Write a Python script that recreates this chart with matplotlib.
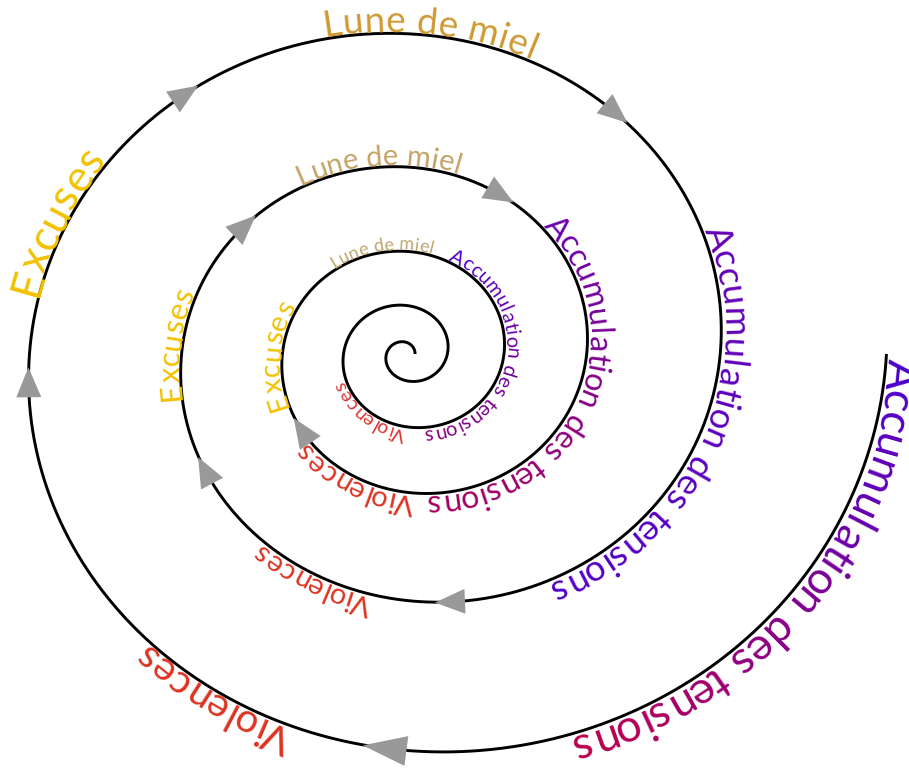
import numpy as np
import matplotlib
matplotlib.use('Agg')
import matplotlib.pyplot as plt
from matplotlib.patches import Polygon
from matplotlib.font_manager import FontProperties, findfont, get_font
from matplotlib.colors import to_rgb

plt.rcParams['text.hinting'] = 'no_hinting'
plt.rcParams['text.hinting_factor'] = 1

# spiral radius read every quarter turn, going inward (clockwise) from the outer end
ring_angles = np.arange(0, 1800, 90)
ring_radii = [432, 401, 358, 316, 287, 244, 214, 189, 158, 141,
              122, 104, 83, 73, 59, 49, 38, 28, 17, 12]

# labels along the spiral: text, start/end angle (deg), start/end colour
label_texts = ["Accumulation des tensions", "Violences", "Excuses", "Lune de miel",
               "Accumulation des tensions", "Violences", "Excuses", "Lune de miel",
               "Accumulation des tensions", "Violences", "Excuses", "Lune de miel",
               "Accumulation des tensions", "Violences"]
label_start = [0.5, 107, 189, 255, 335, 459, 528, 598, 673, 809, 875, 950, 1010, 1172]
label_end = [70, 131, 214, 290, 422, 487, 557, 643, 805, 858, 924, 1001, 1160, 1236]
color_start = ['#4c00cc', '#dd3322', '#f2c200', '#cf9a33',
               '#6400b4', '#dd3322', '#f2c200', '#c4a265',
               '#6a00aa', '#dd3322', '#f2c200', '#bfa46e',
               '#5200c8', '#dd3333']
color_end = ['#bb004c', '#dd3322', '#f2c200', '#cf9a33',
             '#5000c8', '#dd3322', '#f2c200', '#c4a265',
             '#a8005a', '#dd3322', '#f2c200', '#bfa46e',
             '#8c0078', '#dd3333']

# arrows on the path (deg)
arrow_angles = [94.4, 175.5, 230.6, 307.6, 442.5, 509, 579.4, 657, 863]

CX_OUT, CX_IN, CY, SX = 418, 406, 354, 1.08
FONT = 'Lato'
PX = 100 / 72

coeffs = np.polyfit(np.radians(ring_angles), ring_radii, 5)


def spiral_xy(t):
    r = np.polyval(coeffs, t)
    cx = CX_OUT + (CX_IN - CX_OUT) * t / np.radians(1620)
    return cx + SX * r * np.cos(t), CY + r * np.sin(t)


fine = np.radians(np.linspace(0, 1800, 40000))
xs, ys = spiral_xy(fine)
arc = np.concatenate([[0], np.cumsum(np.hypot(np.diff(xs), np.diff(ys)))])


def point_at(s):
    t = np.interp(s, arc, fine)
    x0, y0 = spiral_xy(t - 1e-4)
    x1, y1 = spiral_xy(t + 1e-4)
    x, y = spiral_xy(t)
    d = np.hypot(x1 - x0, y1 - y0)
    return x, y, (x1 - x0) / d, (y1 - y0) / d


def arc_at(deg):
    return np.interp(np.radians(deg), fine, arc)


ft = get_font(findfont(FontProperties(family=FONT)), hinting_factor=1)
ft.set_size(100, 72)


def ink_width(s):
    # width of the inked string, in em, as matplotlib lays it out
    ft.set_text(s, 0.0)
    return ft.get_width_height()[0] / 64 / 100


fig = plt.figure(figsize=(9.09, 7.69), dpi=100)
ax = fig.add_axes([0, 0, 1, 1])
ax.set_xlim(0, 909)
ax.set_ylim(769, 0)
ax.axis('off')

ax.plot(xs, ys, color='black', lw=2.1, solid_capstyle='butt', zorder=2)

for txt, a0, a1, c0, c1 in zip(label_texts, label_start, label_end, color_start, color_end):
    total = ink_width(txt)
    s0, s1 = arc_at(a0), arc_at(a1)
    fs = (s1 - s0) / (total * PX)
    rgb0, rgb1 = np.array(to_rgb(c0)), np.array(to_rgb(c1))
    n = len(txt)
    for i, ch in enumerate(txt):
        if ch == ' ':
            continue
        centre = ink_width(txt[:i + 1]) - ink_width(ch) / 2
        x, y, tx, ty = point_at(s0 + centre * fs * PX)
        off = 1.5
        x, y = x + ty * off, y - tx * off
        col = rgb0 + (rgb1 - rgb0) * i / (n - 1)
        ax.text(x, y, ch, rotation=np.degrees(np.arctan2(-ty, tx)), rotation_mode='anchor',
                ha='center', va='baseline', fontsize=fs, color=col, family=FONT, zorder=3)

# the outermost bottom arrow is drawn larger than the others
for k, a in enumerate(arrow_angles):
    alen, aw = (44, 30) if k == 0 else (30, 25)
    x, y, tx, ty = point_at(arc_at(a))
    tip = (x + tx * alen / 2, y + ty * alen / 2)
    b1 = (x - tx * alen / 2 + ty * aw / 2, y - ty * alen / 2 - tx * aw / 2)
    b2 = (x - tx * alen / 2 - ty * aw / 2, y - ty * alen / 2 + tx * aw / 2)
    ax.add_patch(Polygon([tip, b1, b2], closed=True, color='#999999', lw=0, zorder=4))

fig.savefig('out.png', dpi=100, facecolor='white')
